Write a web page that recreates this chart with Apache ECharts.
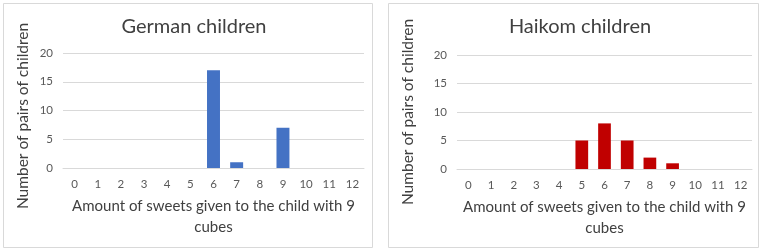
<!DOCTYPE html>
<html><head><meta charset="utf-8">
<script src="https://cdn.jsdelivr.net/npm/echarts@6/dist/echarts.min.js"></script>
<style>html,body{margin:0;padding:0;background:#fff}#c{width:765px;height:252px}</style>
</head><body><div id="c"></div>
<script>
const categories = ['0','1','2','3','4','5','6','7','8','9','10','11','12'];
const germanValues = [0,0,0,0,0,0,17,1,0,7,0,0,0];
const haikomValues = [0,0,0,0,0,5,8,5,2,1,0,0,0];
const yTicks = [0,5,10,15,20];
const titles = ['German children','Haikom children'];
const yName = 'Number of pairs of children';
const xName = 'Amount of sweets given to the child with 9\ncubes';

const FONT = 'Lato';
const chart = echarts.init(document.getElementById('c'), null, {renderer:'canvas'});
const grids = [
  {left:63, top:53, width:301, height:115},
  {left:457, top:55, width:295, height:114}
];
function xAx(i){return {type:'category', gridIndex:i, data:categories,
  axisLine:{show:true, lineStyle:{color:'#d9d9d9'}}, axisTick:{show:false},
  axisLabel:{color:'#595959', fontSize:11.5, fontFamily:FONT, margin:10},
  name:xName, nameLocation:'middle', nameGap:28,
  nameTextStyle:{color:'#404040', fontSize:15, fontFamily:FONT, lineHeight:21, align:'center'}};}
function yAx(i, gap, pad){return {type:'value', gridIndex:i, min:yTicks[0], max:yTicks[yTicks.length-1], interval:5,
  axisLine:{show:false}, axisTick:{show:false},
  splitLine:{lineStyle:{color:'#d9d9d9'}},
  axisLabel:{color:'#595959', fontSize:11.5, fontFamily:FONT, margin:10},
  name:yName, nameLocation:'middle', nameRotate:90, nameGap:gap,
  nameTextStyle:{color:'#404040', fontSize:15.5, fontFamily:FONT, padding:pad}};}
chart.setOption({
  animation:false,
  backgroundColor:'#fff',
  title:[
    {text:titles[0], left:189, top:12, textAlign:'center', textStyle:{color:'#404040', fontSize:20, fontWeight:'normal', fontFamily:FONT}},
    {text:titles[1], left:575, top:12, textAlign:'center', textStyle:{color:'#404040', fontSize:20, fontWeight:'normal', fontFamily:FONT}}
  ],
  graphic:[
    {type:'rect', shape:{x:3.5,y:3.5,width:369,height:244}, style:{fill:'none', stroke:'#d9d9d9', lineWidth:1}},
    {type:'rect', shape:{x:388.5,y:3.5,width:370,height:244}, style:{fill:'none', stroke:'#d9d9d9', lineWidth:1}}
  ],
  grid:grids,
  xAxis:[xAx(0), xAx(1)],
  yAxis:[yAx(0, 32, [0,11,0,0]), yAx(1, 41, [0,0,0,0])],
  series:[
    {type:'bar', xAxisIndex:0, yAxisIndex:0, data:germanValues, barWidth:'56%', itemStyle:{color:'#4472c4'}},
    {type:'bar', xAxisIndex:1, yAxisIndex:1, data:haikomValues, barWidth:'56%', itemStyle:{color:'#c00000'}}
  ]
});
</script></body></html>
